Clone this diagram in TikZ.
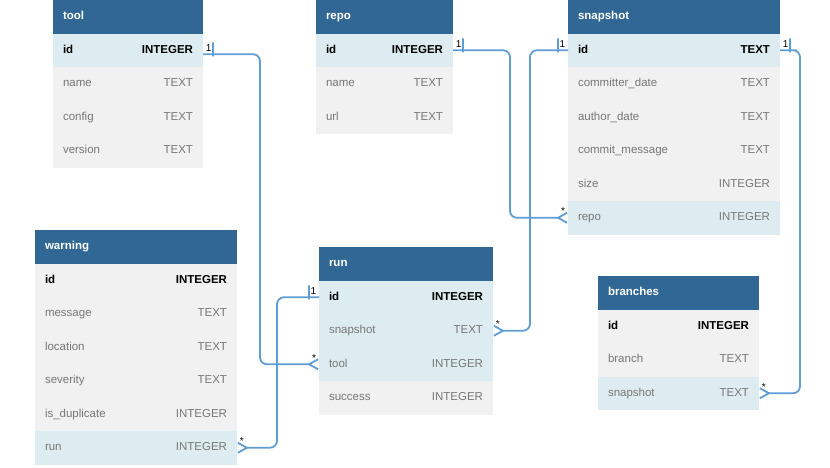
\documentclass[tikz,border=0pt]{standalone}
\usepackage{fontspec}
\setmainfont{Liberation Sans}
\usetikzlibrary{positioning,arrows.meta}
\definecolor{headblue}{RGB}{49,103,148}
\definecolor{rowgray}{RGB}{241,241,241}
\definecolor{rowblue}{RGB}{221,236,241}
\definecolor{fieldgray}{RGB}{119,119,119}
\definecolor{linkblue}{RGB}{95,157,212}

\begin{document}
\begin{tikzpicture}[x=1pt, y=-1pt, node distance=0pt,
  every node/.style={font=\fontsize{11.5}{14}\selectfont},
  head/.style={fill=headblue, text=white, font=\fontsize{11.5}{14}\selectfont\bfseries, minimum height=33.5pt, inner xsep=10pt, inner ysep=0pt, outer sep=0pt, text height=9pt, text depth=3pt, text width=#1, align=left, anchor=north west},
  field/.style={fill=rowgray, text=fieldgray, minimum height=33.5pt, inner xsep=10pt, inner ysep=0pt, outer sep=0pt, text height=9pt, text depth=3pt, text width=#1, align=left},
  keyfield/.style={field=#1, text=black, font=\fontsize{11.5}{14}\selectfont\bfseries},
  link/.style={draw=linkblue, line width=1.8pt, rounded corners=7pt, -{Straight Barb[reversed, length=9pt, width=10pt]}},
  tick/.style={draw=linkblue, line width=1.6pt, minimum width=0pt, minimum height=10pt, inner sep=0pt},
  card/.style={font=\fontsize{10}{12}\selectfont, inner sep=2pt}]
\useasboundingbox (0,0) rectangle (830,467);

% tool
\node[head=130pt] (tool) at (53,0) {tool};
\node[keyfield=130pt, fill=rowblue, below=of tool] (tool-id) {id\hfill INTEGER};
\node[field=130pt, below=of tool-id] (tool-name) {name\hfill TEXT};
\node[field=130pt, below=of tool-name] (tool-config) {config\hfill TEXT};
\node[field=130pt, below=of tool-config] (tool-version) {version\hfill TEXT};

% repo
\node[head=117pt] (repo) at (316,0) {repo};
\node[keyfield=117pt, fill=rowblue, below=of repo] (repo-id) {id\hfill INTEGER};
\node[field=117pt, below=of repo-id] (repo-name) {name\hfill TEXT};
\node[field=117pt, below=of repo-name] (repo-url) {url\hfill TEXT};

% snapshot
\node[head=192pt] (snapshot) at (568,0) {snapshot};
\node[keyfield=192pt, fill=rowblue, below=of snapshot] (snapshot-id) {id\hfill TEXT};
\node[field=192pt, below=of snapshot-id] (snapshot-cdate) {committer\_date\hfill TEXT};
\node[field=192pt, below=of snapshot-cdate] (snapshot-adate) {author\_date\hfill TEXT};
\node[field=192pt, below=of snapshot-adate] (snapshot-msg) {commit\_message\hfill TEXT};
\node[field=192pt, below=of snapshot-msg] (snapshot-size) {size\hfill INTEGER};
\node[field=192pt, fill=rowblue, below=of snapshot-size] (snapshot-repo) {repo\hfill INTEGER};

% warning
\node[head=182pt] (warning) at (35,230) {warning};
\node[keyfield=182pt, below=of warning] (warning-id) {id\hfill INTEGER};
\node[field=182pt, below=of warning-id] (warning-msg) {message\hfill TEXT};
\node[field=182pt, below=of warning-msg] (warning-loc) {location\hfill TEXT};
\node[field=182pt, below=of warning-loc] (warning-sev) {severity\hfill TEXT};
\node[field=182pt, below=of warning-sev] (warning-dup) {is\_duplicate\hfill INTEGER};
\node[field=182pt, fill=rowblue, below=of warning-dup] (warning-run) {run\hfill INTEGER};

% run
\node[head=154pt] (run) at (319,247) {run};
\node[keyfield=154pt, fill=rowblue, below=of run] (run-id) {id\hfill INTEGER};
\node[field=154pt, fill=rowblue, below=of run-id] (run-snapshot) {snapshot\hfill TEXT};
\node[field=154pt, fill=rowblue, below=of run-snapshot] (run-tool) {tool\hfill INTEGER};
\node[field=154pt, below=of run-tool] (run-success) {success\hfill INTEGER};

% branches
\node[head=141pt] (branches) at (598,276) {branches};
\node[keyfield=141pt, below=of branches] (branches-id) {id\hfill INTEGER};
\node[field=141pt, below=of branches-id] (branches-branch) {branch\hfill TEXT};
\node[field=141pt, fill=rowblue, below=of branches-branch] (branches-snapshot) {snapshot\hfill TEXT};

% relations
\draw[link] ([yshift=-4pt]tool-id.east) node[card, above right] {1} -- ++(10,0) node[tick] {} -- ++(47,0) |- (run-tool.west) node[card, above left] {*};
\draw[link] (run-id.west) node[card, above left] {1} -- ++(-10,0) node[tick] {} -- ++(-32,0) |- (warning-run.east) node[card, above right] {*};
\draw[link] (repo-id.east) node[card, above right] {1} -- ++(10,0) node[tick] {} -- ++(47,0) |- (snapshot-repo.west) node[card, above left] {*};
\draw[link] (snapshot-id.west) node[card, above left] {1} -- ++(-10,0) node[tick] {} -- ++(-28,0) |- (run-snapshot.east) node[card, above right] {*};
\draw[link] (snapshot-id.east) node[card, above right] {1} -- ++(10,0) node[tick] {} -- ++(10,0) |- (branches-snapshot.east) node[card, above right] {*};
\end{tikzpicture}
\end{document}
